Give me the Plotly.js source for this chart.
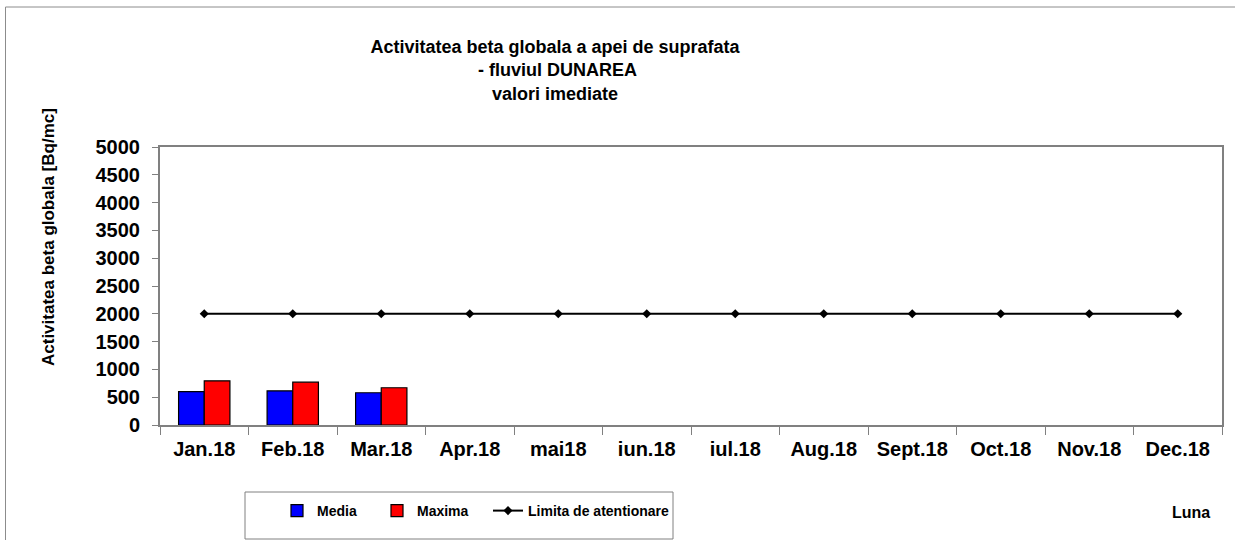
<!DOCTYPE html>
<html>
<head>
<meta charset="utf-8">
<script src="https://cdn.plot.ly/plotly-3.0.1.min.js"></script>
<style>
  html, body { margin: 0; padding: 0; background: #fff; }
  #chart { width: 1235px; height: 540px; }
</style>
</head>
<body>
<div id="chart"></div>
<script>
const months = ["Jan.18", "Feb.18", "Mar.18", "Apr.18", "mai18", "iun.18", "iul.18", "Aug.18", "Sept.18", "Oct.18", "Nov.18", "Dec.18"];
const media = [600, 615, 580, null, null, null, null, null, null, null, null, null];
const maxima = [795, 770, 670, null, null, null, null, null, null, null, null, null];
const limita = [2000, 2000, 2000, 2000, 2000, 2000, 2000, 2000, 2000, 2000, 2000, 2000];
const yTicks = [0, 500, 1000, 1500, 2000, 2500, 3000, 3500, 4000, 4500, 5000];

const FONT = "Liberation Sans, Arial, sans-serif";
const PL = 160, PR = 1222, PT = 147, PB = 425;
const PW = PR - PL, PH = PB - PT;
const px = v => (v - PL) / PW;
const py = v => (PB - v) / PH;

const traces = [
  {
    type: "bar", name: "Media", x: months, y: media, legend: "legend",
    marker: { color: "#0000ff", line: { color: "#000000", width: 1.2 } }
  },
  {
    type: "bar", name: "Maxima", x: months, y: maxima, legend: "legend2",
    marker: { color: "#ff0000", line: { color: "#000000", width: 1.2 } }
  },
  {
    type: "scatter", mode: "lines+markers", name: "Limita de atentionare", legend: "legend3",
    x: months, y: limita,
    line: { color: "#000000", width: 2 },
    marker: { symbol: "diamond", size: 7, color: "#000000" }
  }
];

function legendAt(left) {
  return {
    orientation: "h",
    x: px(left), xanchor: "left",
    y: py(495), yanchor: "top",
    borderwidth: 0, bgcolor: "rgba(0,0,0,0)",
    font: { family: FONT, size: 14, color: "#000000", weight: "bold" },
    itemwidth: 30
  };
}

const layout = {
  width: 1235, height: 540,
  margin: { l: PL, r: 1235 - PR, t: PT, b: 540 - PB },
  paper_bgcolor: "#ffffff", plot_bgcolor: "#ffffff",
  font: { family: FONT, color: "#000000" },
  barmode: "group", bargap: 0.42, bargroupgap: 0,
  showlegend: true,
  title: {
    text: "<b>Activitatea beta globala a apei de suprafata<br> - fluviul DUNAREA<br>valori imediate</b>",
    font: { family: FONT, size: 18, color: "#000000" },
    x: 555 / 1235, xanchor: "center", xref: "container",
    y: 1 - 53 / 540, yanchor: "top", yref: "container"
  },
  xaxis: {
    type: "category",
    range: [-0.5, 11.5],
    showline: true, linecolor: "#808080", linewidth: 2, mirror: true,
    ticks: "outside", tickson: "boundaries", ticklen: 8, tickcolor: "#808080", tickwidth: 1,
    ticklabelstandoff: 5,
    showgrid: false, zeroline: false,
    tickfont: { family: FONT, size: 20, color: "#000000", weight: "bold" },
    fixedrange: true
  },
  yaxis: {
    range: [0, 5000],
    tickvals: yTicks,
    ticktext: yTicks.map(String),
    showline: true, linecolor: "#808080", linewidth: 2, mirror: true,
    ticks: "outside", ticklen: 6, tickcolor: "#808080", tickwidth: 1,
    ticklabelstandoff: 8,
    showgrid: false, zeroline: false,
    tickfont: { family: FONT, size: 20, color: "#000000", weight: "bold" },
    fixedrange: true
  },
  legend: legendAt(277),
  legend2: legendAt(377),
  legend3: legendAt(488),
  annotations: [
    {
      text: "<b>Activitatea beta globala [Bq/mc]</b>",
      xref: "paper", yref: "paper",
      x: px(48), y: py(237),
      xanchor: "center", yanchor: "middle", textangle: -90,
      showarrow: false,
      font: { family: FONT, size: 17, color: "#000000" }
    },
    {
      text: "<b>Luna</b>",
      xref: "paper", yref: "paper",
      x: px(1191), y: py(512),
      xanchor: "center", yanchor: "middle",
      showarrow: false,
      font: { family: FONT, size: 16, color: "#000000" }
    }
  ],
  shapes: [
    {
      type: "rect", xref: "paper", yref: "paper",
      x0: px(5.5), x1: px(1245),
      y0: py(560), y1: py(7),
      line: { color: "#8c8c8c", width: 1 }, fillcolor: "rgba(0,0,0,0)",
      layer: "below"
    },
    {
      type: "rect", xref: "paper", yref: "paper",
      x0: px(245), x1: px(673),
      y0: py(539), y1: py(492),
      line: { color: "#808080", width: 1 }, fillcolor: "rgba(0,0,0,0)",
      layer: "below"
    }
  ]
};

Plotly.newPlot("chart", traces, layout, { displayModeBar: false, staticPlot: true });
</script>
</body>
</html>
